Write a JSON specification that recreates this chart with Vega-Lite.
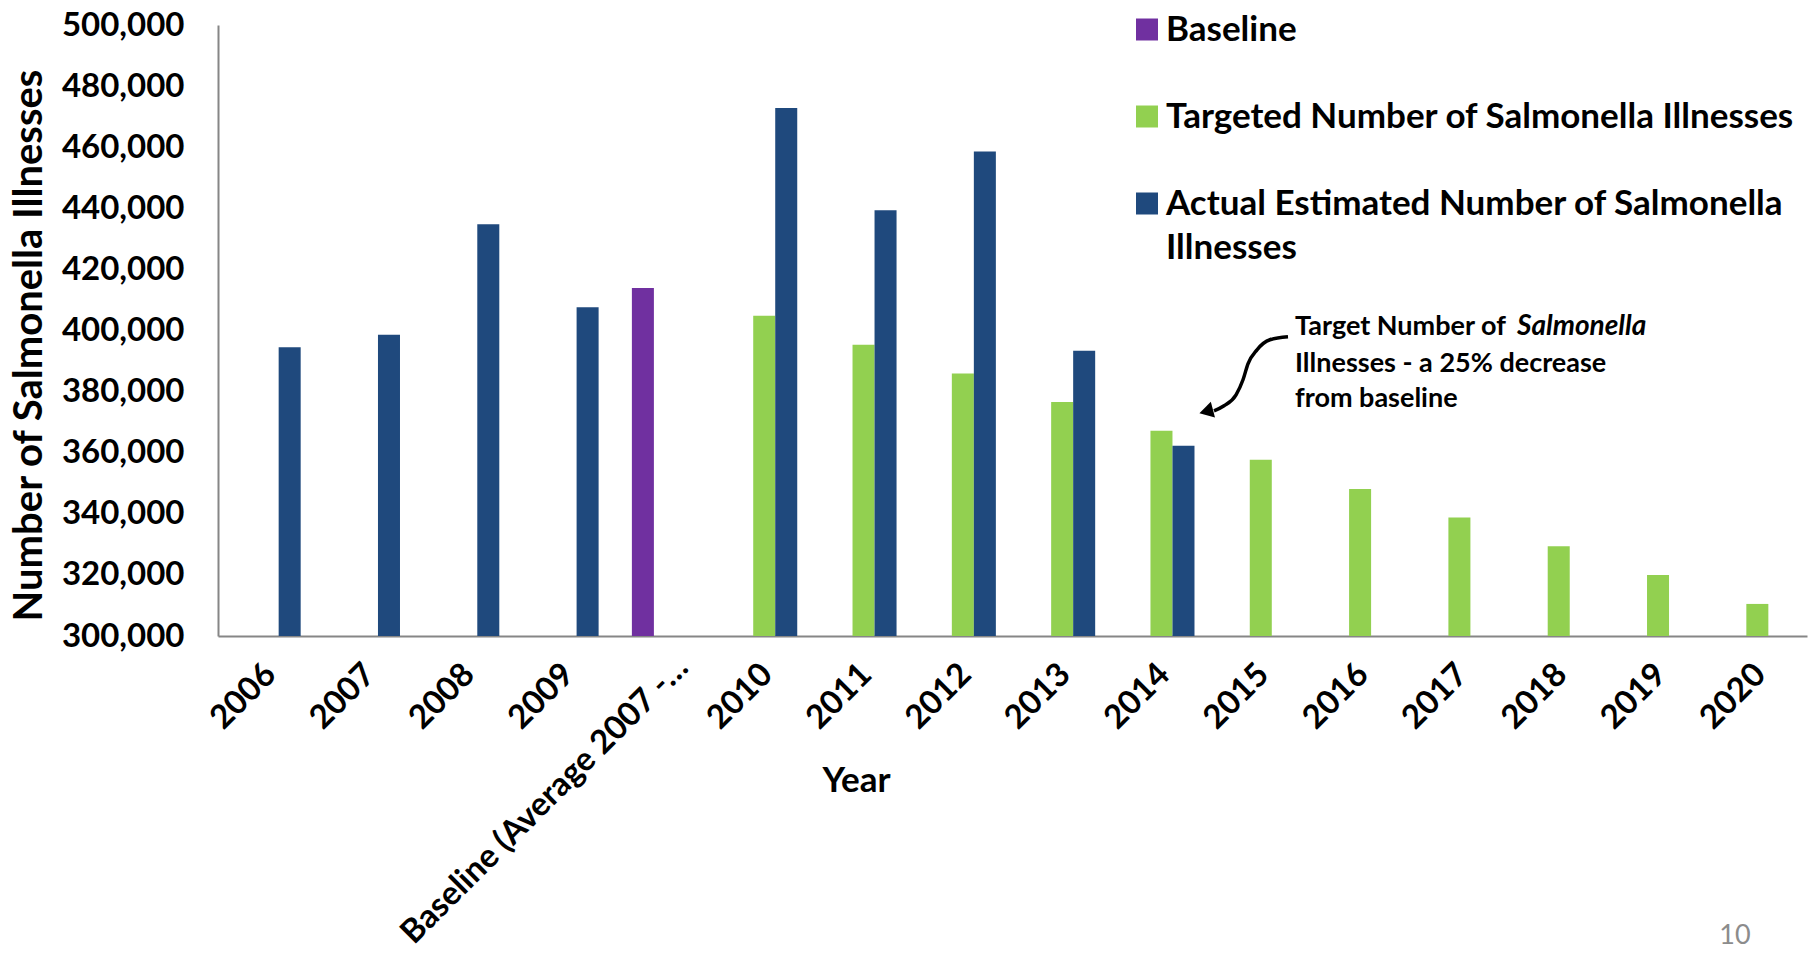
{
  "$schema": "https://vega.github.io/schema/vega-lite/v6.json",
  "autosize": {"type": "none"},
  "width": 1589,
  "height": 611,
  "padding": {"left": 218, "top": 25, "right": 12, "bottom": 317},
  "background": "white",
  "config": {"view": {"stroke": null}, "font": "Lato"},
  "datasets": {
    "bars": [
      {"Year": "2006", "Series": "Actual Estimated Number of Salmonella Illnesses", "Value": 394500},
      {"Year": "2007", "Series": "Actual Estimated Number of Salmonella Illnesses", "Value": 398600},
      {"Year": "2008", "Series": "Actual Estimated Number of Salmonella Illnesses", "Value": 434800},
      {"Year": "2009", "Series": "Actual Estimated Number of Salmonella Illnesses", "Value": 407600},
      {"Year": "Baseline (Average 2007 -…", "Series": "Baseline", "Value": 413900},
      {"Year": "2010", "Series": "Targeted Number of Salmonella Illnesses", "Value": 404800},
      {"Year": "2010", "Series": "Actual Estimated Number of Salmonella Illnesses", "Value": 472800},
      {"Year": "2011", "Series": "Targeted Number of Salmonella Illnesses", "Value": 395300},
      {"Year": "2011", "Series": "Actual Estimated Number of Salmonella Illnesses", "Value": 439400},
      {"Year": "2012", "Series": "Targeted Number of Salmonella Illnesses", "Value": 385900},
      {"Year": "2012", "Series": "Actual Estimated Number of Salmonella Illnesses", "Value": 458600},
      {"Year": "2013", "Series": "Targeted Number of Salmonella Illnesses", "Value": 376600},
      {"Year": "2013", "Series": "Actual Estimated Number of Salmonella Illnesses", "Value": 393400},
      {"Year": "2014", "Series": "Targeted Number of Salmonella Illnesses", "Value": 367200},
      {"Year": "2014", "Series": "Actual Estimated Number of Salmonella Illnesses", "Value": 362300},
      {"Year": "2015", "Series": "Targeted Number of Salmonella Illnesses", "Value": 357700},
      {"Year": "2016", "Series": "Targeted Number of Salmonella Illnesses", "Value": 348100},
      {"Year": "2017", "Series": "Targeted Number of Salmonella Illnesses", "Value": 338800},
      {"Year": "2018", "Series": "Targeted Number of Salmonella Illnesses", "Value": 329400},
      {"Year": "2019", "Series": "Targeted Number of Salmonella Illnesses", "Value": 320000},
      {"Year": "2020", "Series": "Targeted Number of Salmonella Illnesses", "Value": 310500}
    ],
    "notes": [
      {"X": 10.845, "Value": 401230, "Text": "Target Number of", "Italic": false},
      {"X": 13.08, "Value": 401230, "Text": "Salmonella", "Italic": true},
      {"X": 10.845, "Value": 389100, "Text": "Illnesses - a 25% decrease", "Italic": false},
      {"X": 10.845, "Value": 377640, "Text": "from baseline", "Italic": false}
    ],
    "arrow": [
      {"X": 10.774, "Value": 397950},
      {"X": 10.592, "Value": 396970},
      {"X": 10.462, "Value": 393690},
      {"X": 10.371, "Value": 389100},
      {"X": 10.321, "Value": 383870},
      {"X": 10.251, "Value": 378950},
      {"X": 10.13, "Value": 375350},
      {"X": 10.029, "Value": 373710}
    ],
    "head": [{"X": 9.95, "Value": 373500}],
    "page": [{"X": 15.275, "Value": 201720, "Text": "10"}]
  },
  "layer": [
    {
      "data": {"name": "bars"},
      "mark": {"type": "bar"},
      "encoding": {
        "x": {
          "field": "Year", "type": "nominal", "sort": null,
          "scale": {"paddingInner": 0.335, "paddingOuter": 0.1675},
          "axis": {
            "title": "Year", "labelAngle": -45, "labelAlign": "right", "labelBaseline": "middle",
            "labelFontSize": 33, "labelFontWeight": "bold", "labelColor": "black",
            "labelPadding": {"condition": {"test": "indexof(datum.label, 'Baseline') == 0", "value": 26}, "value": 33},
            "labelOffset": {"condition": {"test": "indexof(datum.label, 'Baseline') == 0", "value": 18}, "value": 3},
            "labelLimit": 1000,
            "ticks": false, "tickSize": 0, "domainColor": "#868686", "domainWidth": 2,
            "titleFontSize": 35, "titleFontWeight": "bold", "titleColor": "black",
            "titleX": 638, "titleY": 144, "titleBaseline": "middle", "titleAlign": "center"
          }
        },
        "xOffset": {
          "field": "Series", "type": "nominal",
          "scale": {"domain": ["Baseline", "Targeted Number of Salmonella Illnesses", "Actual Estimated Number of Salmonella Illnesses"], "paddingInner": 0, "paddingOuter": 0}
        },
        "y": {
          "field": "Value", "type": "quantitative",
          "scale": {"domain": [300000, 500000], "zero": false, "nice": false},
          "axis": {
            "title": "Number of Salmonella Illnesses", "values": [300000, 320000, 340000, 360000, 380000, 400000, 420000, 440000, 460000, 480000, 500000],
            "format": ",d", "grid": false, "ticks": false, "tickSize": 0,
            "labelFontSize": 33, "labelFontWeight": "bold", "labelColor": "black", "labelPadding": 34,
            "domainColor": "#868686", "domainWidth": 2,
            "titleFontSize": 40, "titleFontWeight": "bold", "titleColor": "black",
            "titleAngle": -90, "titleX": -188.5, "titleY": 320, "titleAlign": "center", "titleBaseline": "middle"
          }
        },
        "y2": {"datum": 300000},
        "color": {
          "field": "Series", "type": "nominal",
          "scale": {"domain": ["Baseline", "Targeted Number of Salmonella Illnesses", "Actual Estimated Number of Salmonella Illnesses"], "range": ["#7030A0", "#92D050", "#1F497D"]},
          "legend": {
            "title": null, "orient": "none", "legendX": 911.5, "legendY": -13, "padding": 0,
            "symbolType": "square", "symbolSize": 484, "symbolStrokeWidth": 0,
            "labelFont": "Lato", "labelFontSize": 35, "labelFontWeight": "bold", "labelColor": "black",
            "labelLimit": 1000, "labelOffset": 1.5, "rowPadding": 51,
            "labelExpr": "datum.label == 'Actual Estimated Number of Salmonella Illnesses' ? ['Actual Estimated Number of Salmonella', 'Illnesses'] : datum.label",
            "encode": {"labels": {"update": {"lineHeight": {"value": 44}}}}
          }
        }
      }
    },
    {
      "data": {"name": "notes"},
      "transform": [{"filter": "!datum.Italic"}],
      "mark": {"type": "text", "align": "left", "baseline": "middle", "fontSize": 27, "fontWeight": "bold", "color": "black"},
      "encoding": {
        "x": {"field": "X", "type": "quantitative", "scale": {"domain": [0, 16], "nice": false, "zero": false}, "axis": null},
        "y": {"field": "Value", "type": "quantitative"},
        "text": {"field": "Text"}
      }
    },
    {
      "data": {"name": "notes"},
      "transform": [{"filter": "datum.Italic"}],
      "mark": {"type": "text", "align": "left", "baseline": "middle", "fontSize": 28, "fontWeight": "bold", "fontStyle": "italic", "color": "black"},
      "encoding": {
        "x": {"field": "X", "type": "quantitative", "scale": {"domain": [0, 16], "nice": false, "zero": false}, "axis": null},
        "y": {"field": "Value", "type": "quantitative"},
        "text": {"field": "Text"}
      }
    },
    {
      "data": {"name": "arrow"},
      "mark": {"type": "line", "interpolate": "monotone", "color": "black", "strokeWidth": 3.5},
      "encoding": {
        "x": {"field": "X", "type": "quantitative", "scale": {"domain": [0, 16], "nice": false, "zero": false}, "axis": null},
        "y": {"field": "Value", "type": "quantitative"}
      }
    },
    {
      "data": {"name": "head"},
      "mark": {"type": "point", "shape": "triangle-left", "filled": true, "color": "black", "size": 260, "angle": -15, "opacity": 1},
      "encoding": {
        "x": {"field": "X", "type": "quantitative", "scale": {"domain": [0, 16], "nice": false, "zero": false}, "axis": null},
        "y": {"field": "Value", "type": "quantitative"}
      }
    },
    {
      "data": {"name": "page"},
      "mark": {"type": "text", "align": "center", "baseline": "middle", "fontSize": 27, "color": "#8c8c8c"},
      "encoding": {
        "x": {"field": "X", "type": "quantitative", "scale": {"domain": [0, 16], "nice": false, "zero": false}, "axis": null},
        "y": {"field": "Value", "type": "quantitative"},
        "text": {"field": "Text"}
      }
    }
  ],
  "resolve": {"scale": {"x": "independent"}}
}
